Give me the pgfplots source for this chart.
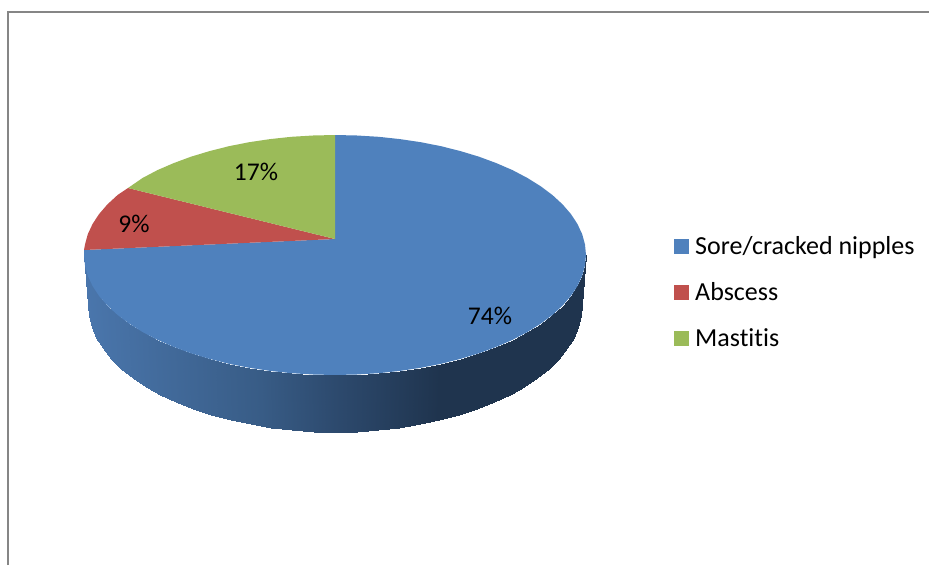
\documentclass[border=0pt]{standalone}
\usepackage{fontspec}
\setmainfont[Ligatures=NoCommon]{Carlito}
\usepackage{pgfplots}
\pgfplotsset{compat=1.18}
\usepackage{pgfplotstable}
\definecolor{pieblue}{RGB}{79,129,189}
\definecolor{piered}{RGB}{192,80,77}
\definecolor{piegreen}{RGB}{155,187,89}
\definecolor{framegray}{RGB}{134,134,134}
\begin{document}
\begin{tikzpicture}[x=1pt,y=1pt]
\path[use as bounding box] (0,0) rectangle (929,565);
\begin{axis}[
  at={(0,0)}, anchor=south west,
  scale only axis, width=929pt, height=565pt,
  xmin=0, xmax=929, ymin=0, ymax=565, y dir=reverse,
  hide axis, enlargelimits=false,
  colormap={side}{rgb255(0pt)=(74,118,172); rgb255(176pt)=(56,92,134); rgb255(251pt)=(45,74,110); rgb255(356pt)=(31,52,78); rgb255(502pt)=(31,52,78)},
  point meta min=84, point meta max=586,
  legend style={at={(674/929,1-236.5/565)}, anchor=north west, draw=none, fill=none, inner sep=0pt,
    font=\fontsize{26}{30}\selectfont, row sep=26.3pt,
    nodes={inner sep=0pt, anchor=west}, legend cell align=left},
  legend image code/.code={\fill[#1] (0pt,-7.5pt) rectangle (15pt,7.5pt);},
]
% side wall: pairs of upper edge and lower edge, third column selects the colour
\addplot[surf, shader=interp, mesh/rows=2, mesh/cols=37, mesh/ordering=y varies, point meta=explicit, forget plot]
 table[meta=c] {
x y c
84 255 84
88 305 84
85 265.5 85
88.9 316.1 85
87.8 275.8 88
91.8 327.1 88
92.6 286.1 93
96.4 337.9 93
99.1 296 99
102.9 348.4 99
107.5 305.7 108
111.1 358.7 108
117.6 315 118
121.1 368.5 118
129.4 323.8 129
132.7 377.8 129
142.7 332.1 143
145.8 386.6 143
157.5 339.9 158
160.3 394.8 158
173.7 346.9 174
176.2 402.3 174
191 353.3 191
193.3 409 191
209.5 358.9 210
211.5 415 210
228.9 363.8 229
230.6 420.1 229
249.2 367.8 249
250.5 424.3 249
270 370.9 270
271.1 427.7 270
291.4 373.2 291
292.1 430.1 291
313.1 374.5 313
313.5 431.5 313
335 375 335
335 432 335
356.9 374.5 357
356.5 431.5 357
378.6 373.2 379
377.9 430.1 379
400 370.9 400
398.9 427.7 400
420.8 367.8 421
419.5 424.3 421
441.1 363.8 441
439.4 420.1 441
460.5 358.9 461
458.5 415 461
479 353.3 479
476.7 409 479
496.3 346.9 496
493.8 402.3 496
512.5 339.9 513
509.7 394.8 513
527.3 332.1 527
524.2 386.6 527
540.6 323.8 541
537.3 377.8 541
552.4 315 552
548.9 368.5 552
562.5 305.7 563
558.9 358.7 563
570.9 296 571
567.1 348.4 571
577.4 286.1 577
573.6 337.9 577
582.2 275.8 582
578.2 327.1 582
585 265.5 585
581.1 316.1 585
586 255 586
582 305 586
};
\addplot[fill=pieblue, draw=none] coordinates {
(335,239) (335,135) (356.9,135.5) (378.6,136.8) (400,139.1) (420.8,142.2) (441.1,146.2) (460.5,151.1)
(479,156.7) (496.3,163.1) (512.5,170.1) (527.3,177.9) (540.6,186.2) (552.4,195) (562.5,204.3)
(570.9,214) (577.4,223.9) (582.2,234.2) (585,244.5) (586,255) (585,265.5) (582.2,275.8) (577.4,286.1)
(570.9,296) (562.5,305.7) (552.4,315) (540.6,323.8) (527.3,332.1) (512.5,339.9) (496.3,346.9)
(479,353.3) (460.5,358.9) (441.1,363.8) (420.8,367.8) (400,370.9) (378.6,373.2) (356.9,374.5)
(335,375) (313.1,374.5) (291.4,373.2) (270,370.9) (249.2,367.8) (228.9,363.8) (209.5,358.9)
(191,353.3) (173.7,346.9) (157.5,339.9) (142.7,332.1) (129.4,323.8) (117.6,315) (107.5,305.7)
(99.1,296) (92.6,286.1) (87.8,275.8) (85,265.5) (84,255) (84,250) (335,239)
};
\addplot[fill=piered, draw=none] coordinates {
(335,239) (84,250) (85,244.5) (87.8,234.2) (92.6,223.9) (99.1,214) (107.5,204.3) (117.6,195) (128,188) (335,239)
};
\addplot[fill=piegreen, draw=none] coordinates {
(335,239) (128,188) (142.7,177.9) (157.5,170.1) (173.7,163.1) (191,156.7) (209.5,151.1) (228.9,146.2)
(249.2,142.2) (270,139.1) (291.4,136.8) (313.1,135.5) (335,135) (335,239)
};
\addplot[framegray, line width=2pt, forget plot] coordinates {(8,565) (8,12) (929,12)};
\legend{\hspace{6pt}Sore/cracked nipples,\hspace{6pt}Abscess,\hspace{6pt}Mastitis}
\node[font=\fontsize{25.5}{30}\selectfont] at (axis cs:256,172) {17\%};
\node[font=\fontsize{25.5}{30}\selectfont] at (axis cs:134,224) {9\%};
\node[font=\fontsize{25.5}{30}\selectfont] at (axis cs:490,316) {74\%};
\end{axis}
\end{tikzpicture}
\end{document}
